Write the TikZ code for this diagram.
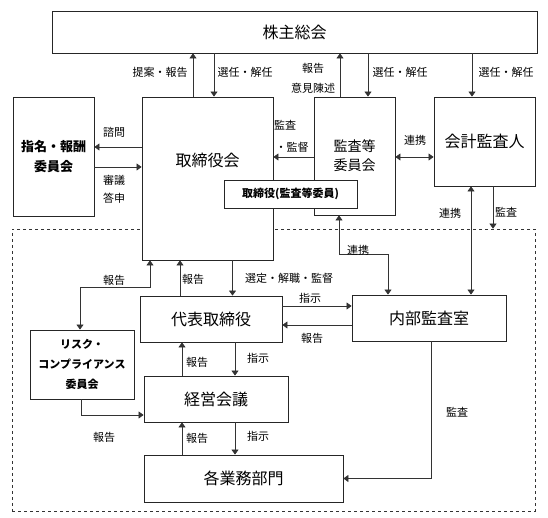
\documentclass[tikz,border=0pt]{standalone}
\usepackage{fontspec}
\setmainfont{Noto Sans CJK JP}
\usetikzlibrary{arrows.meta}
\def\W{548}
\def\H{518}

\begin{document}
\begin{tikzpicture}[x=1pt, y=1pt,
  box/.style={draw=black!85, line width=0.8pt, fill=white, inner sep=0pt, font=\fontsize{16}{18}\selectfont},
  smallbox/.style={box, font=\bfseries\fontsize{12}{19}\selectfont, align=center},
  lbl/.style={font=\fontsize{11}{13}\selectfont, inner sep=0pt},
  arr/.style={draw=black!80, line width=0.7pt, -{Triangle[length=5pt, width=7pt]}},
  arrr/.style={draw=black!80, line width=0.7pt, {Triangle[length=5pt, width=7pt]}-{Triangle[length=5pt, width=7pt]}}]
\useasboundingbox (0, 0) rectangle (\W, \H);

\node[draw=black!80, dashed, line width=0.7pt, minimum width=523pt, minimum height=282pt, inner sep=0pt] (grp) at (273.5, 148) {};

\node[box, minimum width=485pt, minimum height=42pt] (gm) at (294.5, 486) {株主総会};
\node[smallbox, minimum width=81pt, minimum height=119pt, font=\bfseries\fontsize{13}{20}\selectfont] (nom) at (53.5, 361.5) {指名・報酬\\委員会};
\node[box, minimum width=131pt, minimum height=163pt] (bod) at (207.5, 339.5) {};
\node[font=\fontsize{16}{18}\selectfont] (bodtxt) at (207.5, 358) {取締役会};
\node[box, minimum width=81pt, minimum height=118pt, align=center, font=\fontsize{14}{19}\selectfont] (ac) at (354.5, 362) {監査等\\委員会};
\node[smallbox, minimum width=133pt, minimum height=28pt, font=\bfseries\fontsize{11}{13}\selectfont] (dac) at (290.5, 324) {取締役(監査等委員)};
\node[box, minimum width=101pt, minimum height=89pt] (ea) at (484.5, 376.5) {会計監査人};
\node[box, minimum width=142pt, minimum height=46pt] (ceo) at (211, 199) {代表取締役};
\node[box, minimum width=154pt, minimum height=46pt] (ia) at (429, 200) {内部監査室};
\node[smallbox, minimum width=104pt, minimum height=69pt, font=\bfseries\fontsize{11}{20}\selectfont] (risk) at (82, 153.5) {リスク・\\コンプライアンス\\委員会};
\node[box, minimum width=144pt, minimum height=46pt] (mm) at (216, 119) {経営会議};
\node[box, minimum width=199pt, minimum height=47pt] (dept) at (243.5, 39.5) {各業務部門};

% shareholders
\draw[arr] ([xshift=-14.5pt]bod.north) -- ([xshift=-14.5pt]bod.north |- gm.south);
\draw[arr] ([xshift=6.5pt]bod.north |- gm.south) -- ([xshift=6.5pt]bod.north);
\draw[arr] ([xshift=-14.5pt]ac.north) -- ([xshift=-14.5pt]ac.north |- gm.south);
\draw[arr] ([xshift=13.5pt]ac.north |- gm.south) -- ([xshift=13.5pt]ac.north);
\draw[arr] ([xshift=-12.5pt]ea.north |- gm.south) -- ([xshift=-12.5pt]ea.north);

% board level
\draw[arr] ([yshift=31.5pt]bod.west) -- ([yshift=31.5pt]bod.west -| nom.east);
\draw[arr] ([yshift=11.5pt]bod.west -| nom.east) -- ([yshift=11.5pt]bod.west);
\draw[arr] ([yshift=-1pt]ac.west) -- ([yshift=-1pt]ac.west -| bod.east);
\draw[arrr] ([yshift=-1pt]ac.east) -- ([yshift=-1pt]ac.east -| ea.west);
\draw[arrr] ([xshift=-13.5pt]ea.south) -- ([xshift=-13.5pt]ea.south |- ia.north);
\draw[arr] ([xshift=8.5pt]ea.south) -- ([xshift=8.5pt]ea.south |- grp.north);
\draw[arrr] ([xshift=-15.5pt]ac.south) |- ([xshift=-41pt, yshift=40pt]ia.north) -- ([xshift=-41pt]ia.north);

% executive level
\draw[arrr] ([xshift=-2pt]risk.north) |- ([xshift=-57.5pt, yshift=-27pt]bod.south) -- ([xshift=-57.5pt]bod.south);
\draw[arr] ([xshift=-31pt]ceo.north) -- ([xshift=-31pt]ceo.north |- bod.south);
\draw[arr] ([xshift=21.5pt]ceo.north |- bod.south) -- ([xshift=21.5pt]ceo.north);
\draw[arr] ([yshift=13pt]ceo.east) -- ([yshift=13pt]ceo.east -| ia.west);
\draw[arr] ([yshift=-7pt]ia.west) -- ([yshift=-7pt]ia.west -| ceo.east);
\draw[arr] ([xshift=-34pt]mm.north) -- ([xshift=-34pt]mm.north |- ceo.south);
\draw[arr] ([xshift=19pt]mm.north |- ceo.south) -- ([xshift=19pt]mm.north);
\draw[arr] ([xshift=-61.5pt]dept.north) -- ([xshift=-61.5pt]dept.north |- mm.south);
\draw[arr] ([xshift=-8.5pt]dept.north |- mm.south) -- ([xshift=-8.5pt]dept.north);
\draw[arr] ([xshift=-1pt]risk.south) |- ([yshift=-16pt]mm.west);
\draw[arr] ([xshift=2pt]ia.south) |- (dept.east);

\node[lbl] (l1) at (160, 446) {提案・報告};
\node[lbl] (l2) at (245, 446) {選任・解任};
\node[lbl] (l3) at (313, 450) {報告};
\node[lbl] (l4) at (313, 430) {意見陳述};
\node[lbl] (l5) at (400, 446) {選任・解任};
\node[lbl] (l6) at (506, 446) {選任・解任};
\node[lbl] (l7) at (114, 386) {諮問};
\node[lbl] (l8) at (114, 338) {審議};
\node[lbl] (l9) at (114, 320) {答申};
\node[lbl] (l10) at (285, 393) {監査};
\node[lbl] (l11) at (292, 371) {・監督};
\node[lbl] (l12) at (415, 378) {連携};
\node[lbl] (l13) at (450, 305) {連携};
\node[lbl] (l14) at (506, 306) {監査};
\node[lbl] (l15) at (358, 268) {連携};
\node[lbl] (l16) at (114, 238) {報告};
\node[lbl] (l17) at (193, 239) {報告};
\node[lbl] (l18) at (289, 240) {選定・解職・監督};
\node[lbl] (l19) at (310, 220) {指示};
\node[lbl] (l20) at (312, 180) {報告};
\node[lbl] (l21) at (197, 156) {報告};
\node[lbl] (l22) at (258, 160) {指示};
\node[lbl] (l23) at (104, 81) {報告};
\node[lbl] (l24) at (197, 80) {報告};
\node[lbl] (l25) at (258, 82) {指示};
\node[lbl] (l26) at (457, 106) {監査};
\end{tikzpicture}
\end{document}
